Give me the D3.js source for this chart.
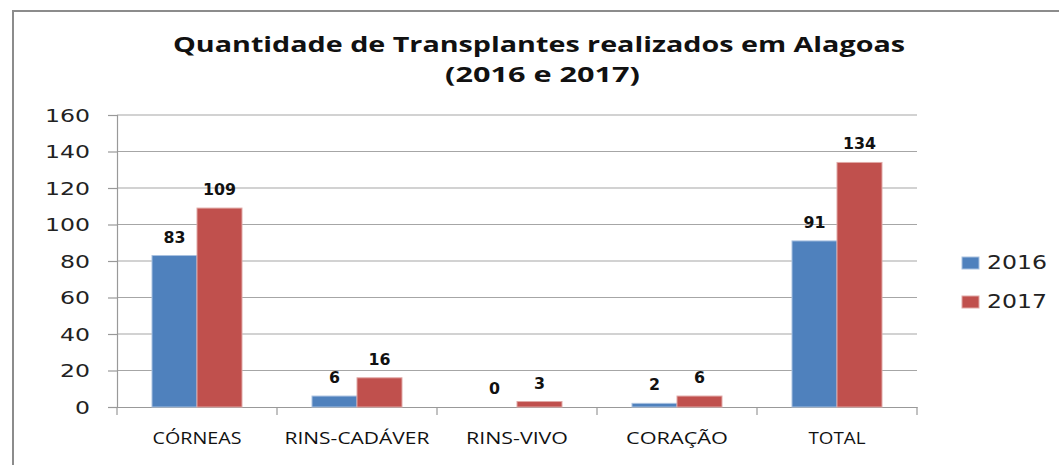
<!DOCTYPE html>
<html><head><meta charset="utf-8">
<script src="https://cdn.jsdelivr.net/npm/d3@7"></script>
<style>
body{margin:0;background:#fff;}
svg{display:block;}
</style></head><body>
<svg id="c" width="1059" height="465"></svg>
<script>
const categories = ["CÓRNEAS","RINS-CADÁVER","RINS-VIVO","CORAÇÃO","TOTAL"];
const seriesNames = ["2016","2017"];
const values2016 = [83,6,0,2,91];
const values2017 = [109,16,3,6,134];
const yTicks = [0,20,40,60,80,100,120,140,160];
const titleLines = ["Quantidade de Transplantes realizados em Alagoas","(2016 e 2017)"];
const colors = ["#4F81BD","#C0504D"];

// text widths (styling: the reference is horizontally stretched)
const catWidth = {"CÓRNEAS":89,"RINS-CADÁVER":145,"RINS-VIVO":102,"CORAÇÃO":102,"TOTAL":57};
const stretch = el => el.attr("lengthAdjust","spacingAndGlyphs");

const svg = d3.select("#c");
const sans = "'Open Sans',sans-serif";
const verd = "'DejaVu Sans',Verdana,sans-serif";

// outer frame
svg.append("rect").attr("x",13).attr("y",11).attr("width",1060).attr("height",470)
  .attr("fill","none").attr("stroke","#8c8c8c").attr("stroke-width",2);

const L=117,R=917,T=115,B=407;
const x0 = d3.scaleBand().domain(categories).range([L,R]).padding(0);
const x1 = d3.scaleBand().domain(seriesNames).range([0,x0.bandwidth()]).paddingInner(0).paddingOuter(0.778);
const y = d3.scaleLinear().domain([0,160]).range([B,T]);

// gridlines
svg.append("g").selectAll("line").data(yTicks.filter(d=>d>0)).join("line")
  .attr("x1",L).attr("x2",R).attr("y1",d=>y(d)).attr("y2",d=>y(d))
  .attr("stroke","#a6a6a6").attr("stroke-width",1.2);

// y axis
const ya = svg.append("g").attr("transform",`translate(${L},0)`)
  .call(d3.axisLeft(y).tickValues(yTicks).tickSize(9).tickPadding(18));
ya.select(".domain").attr("stroke","#999").attr("stroke-width",1.2);
ya.selectAll(".tick line").attr("stroke","#999").attr("stroke-width",1.2);
ya.selectAll(".tick text").attr("font-family",verd).attr("font-size",17.5).attr("fill","#222")
  .attr("dy","0.36em").attr("textLength",d=>String(d).length*15).call(stretch);

// x axis
const xa = svg.append("g").attr("transform",`translate(0,${B})`)
  .call(d3.axisBottom(x0).tickSize(0).tickPadding(26));
xa.select(".domain").attr("stroke","#999").attr("stroke-width",1.2);
xa.selectAll(".tick text").attr("font-family",sans).attr("font-size",15.5).attr("fill","#111")
  .attr("textLength",d=>catWidth[d]).call(stretch);
// category separator ticks
svg.append("g").selectAll("line").data(d3.range(categories.length+1)).join("line")
  .attr("x1",i=>L+i*x0.step()).attr("x2",i=>L+i*x0.step())
  .attr("y1",B).attr("y2",B+8).attr("stroke","#999").attr("stroke-width",1.2);

// bars
const data = categories.map((c,i)=>({c, v:[values2016[i],values2017[i]]}));
const g = svg.append("g").selectAll("g").data(data).join("g")
  .attr("transform",d=>`translate(${x0(d.c)},0)`);
g.selectAll("rect").data(d=>d.v.map((v,j)=>({k:seriesNames[j],v,j}))).join("rect")
  .attr("x",d=>x1(d.k)).attr("width",x1.bandwidth())
  .attr("y",d=>y(d.v)).attr("height",d=>B-y(d.v))
  .attr("fill",d=>colors[d.j]).attr("stroke",d=>d.j?"#e0a8a6":"#a9c1e0").attr("stroke-width",d=>d.v>0?1:0);
g.selectAll("text").data(d=>d.v.map((v,j)=>({k:seriesNames[j],v,j}))).join("text")
  .attr("x",d=>x1(d.k)+x1.bandwidth()/2).attr("y",d=>y(d.v)-13)
  .attr("text-anchor","middle").attr("font-family",verd).attr("font-weight","bold")
  .attr("font-size",15).attr("fill","#111")
  .attr("textLength",d=>String(d.v).length*11).call(stretch).text(d=>d.v);

// title
svg.append("text").attr("x",539).attr("y",52).attr("text-anchor","middle")
  .attr("font-family",sans).attr("font-weight","bold").attr("font-size",21.5).attr("fill","#111")
  .attr("textLength",732).call(stretch).text(titleLines[0]);
svg.append("text").attr("x",542.5).attr("y",82).attr("text-anchor","middle")
  .attr("font-family",sans).attr("font-weight","bold").attr("font-size",21.5).attr("fill","#111")
  .attr("textLength",195).call(stretch).text(titleLines[1]);

// legend
const lg = svg.append("g").selectAll("g").data(seriesNames).join("g")
  .attr("transform",(d,i)=>`translate(962,${257+i*39})`);
lg.append("rect").attr("width",17).attr("height",12).attr("fill",(d,i)=>colors[i])
  .attr("stroke",(d,i)=>i?"#e0a8a6":"#a9c1e0");
lg.append("text").attr("x",25).attr("y",12).attr("font-family",verd).attr("font-size",19)
  .attr("fill","#222").attr("textLength",60).call(stretch).text(d=>d);
</script></body></html>
